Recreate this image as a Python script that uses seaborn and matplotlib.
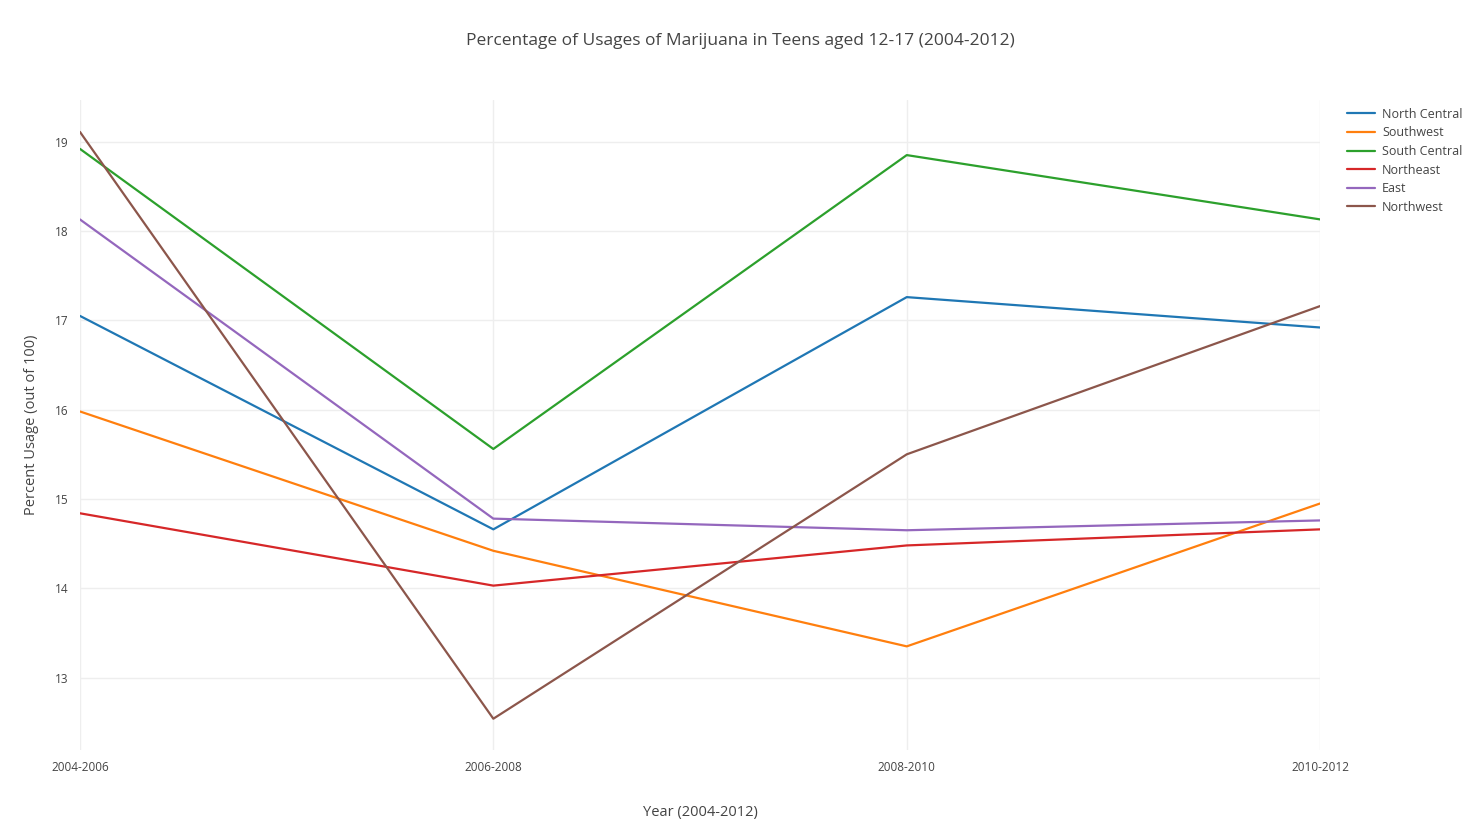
import matplotlib
matplotlib.use("Agg")
import matplotlib.pyplot as plt
import seaborn as sns
import pandas as pd

years = ["2004-2006", "2006-2008", "2008-2010", "2010-2012"]
north_central = [17.05, 14.66, 17.26, 16.92]
southwest = [15.98, 14.42, 13.35, 14.95]
south_central = [18.92, 15.56, 18.85, 18.13]
northeast = [14.84, 14.03, 14.48, 14.66]
east = [18.13, 14.78, 14.65, 14.76]
northwest = [19.11, 12.54, 15.50, 17.16]

series = {"North Central": north_central, "Southwest": southwest,
          "South Central": south_central, "Northeast": northeast,
          "East": east, "Northwest": northwest}
rows = []
for name, vals in series.items():
    for i, v in enumerate(vals):
        rows.append({"region": name, "x": i, "value": v})
df = pd.DataFrame(rows)

sns.set_style("white")
plt.rcParams["font.family"] = ["Open Sans", "DejaVu Sans"]
txt = "#444444"

fig = plt.figure(figsize=(14.8, 8.31), dpi=100)
ax = fig.add_axes([0.054, 0.0975, 0.838, 0.7825])
sns.lineplot(data=df, x="x", y="value", hue="region", palette="tab10",
             linewidth=1.6, ax=ax, legend=True)
ax.set_xlim(0, 3)
ax.set_ylim(12.19, 19.47)
ax.set_xticks(range(4))
ax.set_xticklabels(years)
ax.set_yticks([13, 14, 15, 16, 17, 18, 19])
ax.grid(True, color="#eeeeee", linewidth=1)
for s in ax.spines.values():
    s.set_visible(False)
ax.tick_params(colors=txt, labelsize=8.5, length=0, pad=8)
ax.set_xlabel("Year (2004-2012)", color=txt, fontsize=10.5, labelpad=22)
ax.set_ylabel("Percent Usage (out of 100)", color=txt, fontsize=10.5, labelpad=12)
fig.suptitle("Percentage of Usages of Marijuana in Teens aged 12-17 (2004-2012)",
             color=txt, fontsize=12.5, y=0.96)
h, l = ax.get_legend_handles_labels()
ax.get_legend().remove()
fig.legend(h, l, loc="upper left", bbox_to_anchor=(0.906, 0.878), frameon=False,
           fontsize=9, labelcolor=txt, handlelength=2.2, labelspacing=0.45,
           borderpad=0, handletextpad=0.6)
fig.savefig("out.png", dpi=100)
